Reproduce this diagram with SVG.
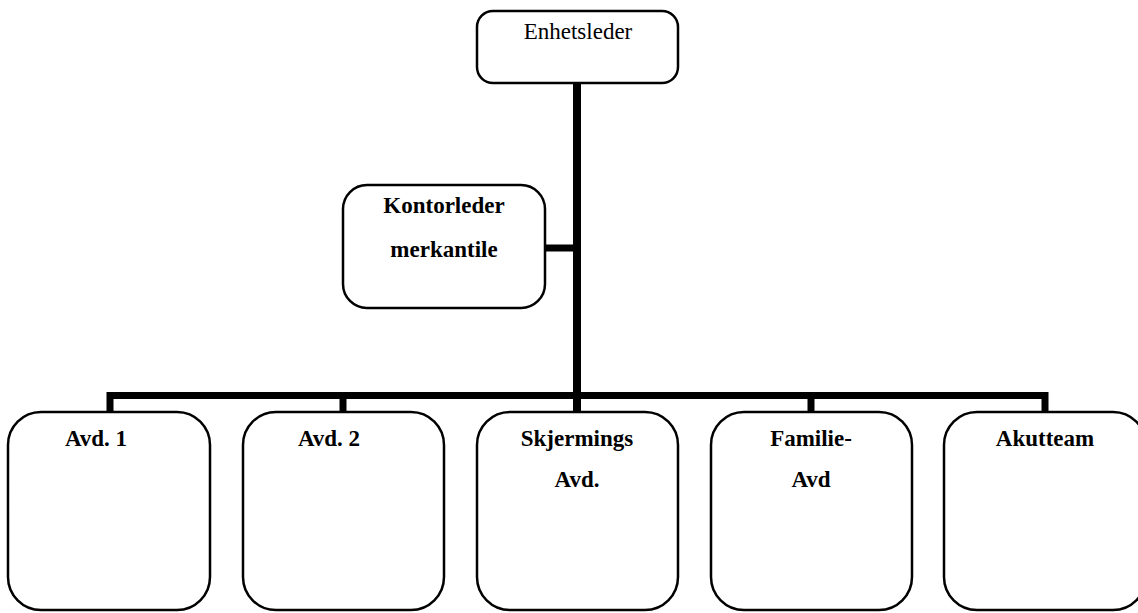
<svg xmlns="http://www.w3.org/2000/svg" width="1138" height="613" viewBox="0 0 1138 613">
<style>
.box{fill:#fff;stroke:#000;stroke-width:2.5}
.t{font-family:"Liberation Serif","Times New Roman",serif;font-size:23px;fill:#000;text-anchor:middle}
.b{font-weight:bold}
.c{stroke:#000;fill:none;stroke-linecap:butt}
</style>
<rect width="1138" height="613" fill="#fff"/>
<g id="connectors">
<line class="c" x1="577" y1="83" x2="577" y2="412" stroke-width="8"/>
<line class="c" x1="545" y1="248" x2="577" y2="248" stroke-width="7"/>
<polyline class="c" points="110,412 110,395.5 1045,395.5 1045,412" stroke-width="7"/>
<line class="c" x1="343" y1="395" x2="343" y2="412" stroke-width="7"/>
<line class="c" x1="811" y1="395" x2="811" y2="412" stroke-width="7"/>
</g>
<g id="enhetsleder">
<rect class="box" x="477" y="11" width="201" height="72" rx="16"/>
<text class="t" x="578" y="39">Enhetsleder</text>
</g>
<g id="kontorleder">
<rect class="box" x="343" y="185" width="202" height="123" rx="24"/>
<text class="t b" x="444" y="213">Kontorleder</text>
<text class="t b" x="444" y="257">merkantile</text>
</g>
<g id="avd1">
<rect class="box" x="8" y="412" width="202" height="198" rx="33"/>
<text class="t b" x="96" y="446">Avd. 1</text>
</g>
<g id="avd2">
<rect class="box" x="243" y="412" width="201" height="198" rx="33"/>
<text class="t b" x="329" y="446">Avd. 2</text>
</g>
<g id="skjermings">
<rect class="box" x="477" y="412" width="201" height="198" rx="33"/>
<text class="t b" x="577" y="446">Skjermings</text>
<text class="t b" x="577" y="487">Avd.</text>
</g>
<g id="familie">
<rect class="box" x="711" y="412" width="201" height="198" rx="33"/>
<text class="t b" x="811" y="446">Familie-</text>
<text class="t b" x="811" y="487">Avd</text>
</g>
<g id="akutteam">
<rect class="box" x="944" y="412" width="202" height="198" rx="33"/>
<text class="t b" x="1045" y="446">Akutteam</text>
</g>
</svg>
